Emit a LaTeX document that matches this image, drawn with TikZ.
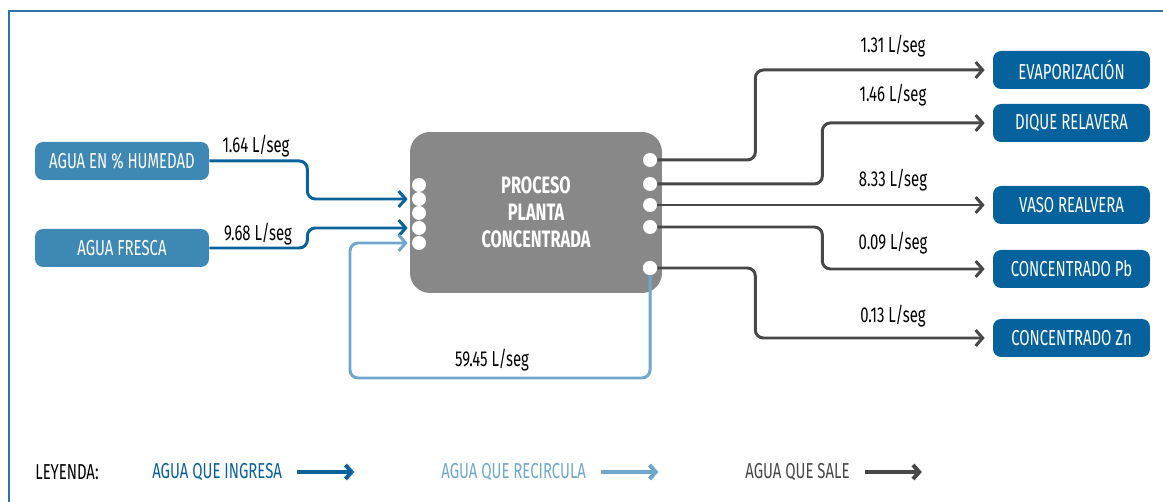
\documentclass[tikz,border=0pt]{standalone}
\usepackage{fontspec}
\setmainfont{Fira Sans}[FakeStretch=0.69]
\usetikzlibrary{arrows.meta}
\definecolor{inblue}{HTML}{0A629A}
\definecolor{boxblue}{HTML}{3E88B5}
\definecolor{outblue}{HTML}{05629C}
\definecolor{recblue}{HTML}{6FA8CC}
\definecolor{outgray}{HTML}{484848}
\definecolor{procgray}{HTML}{888888}
\definecolor{frameblue}{HTML}{2F72AA}

\begin{document}
\begin{tikzpicture}[x=0.02cm,y=-0.02cm,
  every node/.style={font=\fontsize{12.3}{14}\selectfont},
  inbox/.style={fill=boxblue,text=white,rounded corners=0.16cm,minimum width=3.48cm,minimum height=0.76cm,inner sep=0pt},
  outbox/.style={fill=outblue,text=white,rounded corners=0.16cm,minimum width=3.14cm,minimum height=0.76cm,inner sep=0pt},
  proc/.style={fill=procgray,text=white,rounded corners=0.4cm,minimum width=5.04cm,minimum height=3.22cm,align=center,font=\fontsize{13.5}{15.5}\selectfont\bfseries},
  port/.style={circle,fill=white,minimum size=0.28cm,inner sep=0pt},
  flow/.style={line width=1.7pt,rounded corners=0.16cm,-{Straight Barb[length=4pt,width=9pt]}},
  inflow/.style={flow,inblue,shorten >=0.08cm},
  recflow/.style={flow,recblue,shorten >=0.08cm},
  outflow/.style={flow,outgray,shorten >=0.16cm},
  legarrow/.style={line width=2.3pt,-{Straight Barb[length=3.5pt,width=8pt]}}]
\useasboundingbox (0,0) rectangle (1163,502);
\draw[frameblue,line width=0.8pt] (9,502) -- (9,11) -- (1163,11);

% sources
\node[inbox] (hum) at (122,161) {AGUA EN \% HUMEDAD};
\node[inbox] (fre) at (122,248) {AGUA FRESCA};

% process
\node[proc] (proc) at (536,212.5) {PROCESO\\PLANTA\\CONCENTRADA};
\node[port] (i1) at (419,185) {};
\node[port] (i2) at (419,199) {};
\node[port] (i3) at (419,213) {};
\node[port] (i4) at (419,228) {};
\node[port] (i5) at (419,243) {};
\node[port] (o1) at (650,160) {};
\node[port] (o2) at (650,184) {};
\node[port] (o3) at (650,205) {};
\node[port] (o4) at (650,227) {};
\node[port] (o5) at (650,268) {};

% destinations
\node[outbox] (evap) at (1071.5,70) {EVAPORIZACIÓN};
\node[outbox] (diq) at (1071.5,123) {DIQUE RELAVERA};
\node[outbox] (vaso) at (1071.5,205) {VASO REALVERA};
\node[outbox] (pb) at (1071.5,269) {CONCENTRADO Pb};
\node[outbox] (zn) at (1071.5,338) {CONCENTRADO Zn};

% flows
\draw[inflow] (hum.east) -- ++(98,0) |- (i2.west);
\draw[inflow] (fre.east) -- ++(98,0) |- (i4.west);
\coordinate (rc) at (350,378);
\draw[recflow] (o5.south) |- (rc) |- (i5.west);
\draw[outflow] (o1.east) -- ++(98,0) |- (evap.west);
\draw[outflow] (o2.east) -- ++(165,0) |- (diq.west);
\draw[outflow] (o3.east) -- (vaso.west);
\draw[outflow] (o4.east) -- ++(165,0) |- (pb.west);
\draw[outflow] (o5.east) -- ++(98,0) |- (zn.west);
\draw[recblue,line width=1.7pt] (o5.center) -- (o5.south);
\node[port] at (o5) {};

% labels
\node (l1) at (256,146) {1.64 L/seg};
\node (l2) at (258,234) {9.68 L/seg};
\node (l3) at (492,360) {59.45 L/seg};
\node (l4) at (893,46) {1.31 L/seg};
\node (l5) at (893,95) {1.46 L/seg};
\node (l6) at (893,180) {8.33 L/seg};
\node (l7) at (893,243) {0.09 L/seg};
\node (l8) at (893,316) {0.13 L/seg};

% legend
\node[anchor=west,inner sep=0pt] (ley) at (35,472) {LEYENDA:};
\node[anchor=west,inner sep=0pt,text=inblue] (lg1) at (152,472) {AGUA QUE INGRESA};
\node[anchor=west,inner sep=0pt,text=recblue] (lg2) at (441,472) {AGUA QUE RECIRCULA};
\node[anchor=west,inner sep=0pt,text=outgray] (lg3) at (745,472) {AGUA QUE SALE};
\draw[legarrow,inblue] ([xshift=0.3cm]lg1.east) -- ++(57,0);
\draw[legarrow,recblue] ([xshift=0.3cm]lg2.east) -- ++(57,0);
\draw[legarrow,outgray] ([xshift=0.3cm]lg3.east) -- ++(57,0);
\end{tikzpicture}
\end{document}
